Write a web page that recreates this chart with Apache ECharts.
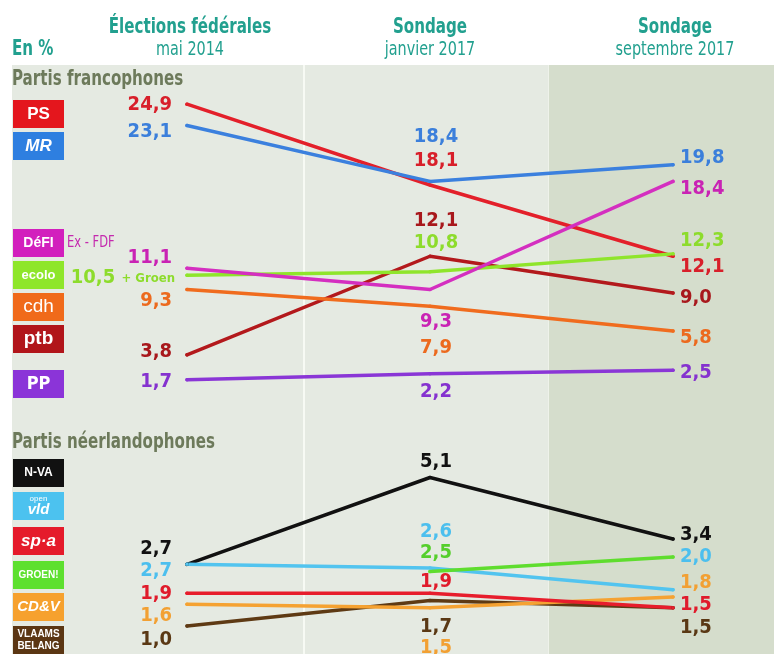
<!DOCTYPE html>
<html>
<head>
<meta charset="utf-8">
<script src="https://cdn.jsdelivr.net/npm/echarts@6/dist/echarts.min.js"></script>
<style>
  html, body { margin: 0; padding: 0; background: #fff; }
  #chart { width: 774px; height: 654px; }
</style>
</head>
<body>
<div id="chart"></div>
<script>
// colonnes
const periodTitles = ['Élections fédérales', 'Sondage', 'Sondage'];
const periodDates = ['mai 2014', 'janvier 2017', 'septembre 2017'];

// partis francophones (en %)
const ps = [24.9, 18.1, 12.1];
const mr = [23.1, 18.4, 19.8];
const defi = [11.1, 9.3, 18.4];
const ecolo = [10.5, 10.8, 12.3];
const cdh = [9.3, 7.9, 5.8];
const ptb = [3.8, 12.1, 9.0];
const pp = [1.7, 2.2, 2.5];

// partis néerlandophones (en %)
const nva = [2.7, 5.1, 3.4];
const openVld = [2.7, 2.6, 2.0];
const spa = [1.9, 1.9, 1.5];
const groen = [null, 2.5, 2.9];
const cdv = [1.6, 1.5, 1.8];
const vb = [1.0, 1.7, 1.5];

const NARROW = '"Liberation Sans Narrow", "DejaVu Sans Condensed", sans-serif';
const WIDE = '"Liberation Sans", Arial, sans-serif';

// grid 0 = francophones, grid 1 = néerlandophones
// nudge = vertical shift of the value label at each column (null = no label)
const parties = [
  { name: 'PS', grid: 0, values: ps, color: '#e3202a', text: '#d81f2a', nudge: [1, -24, 11] },
  { name: 'MR', grid: 0, values: mr, color: '#3b80de', text: '#3b7fdb', nudge: [6, -45, -7] },
  { name: 'ptb', grid: 0, values: ptb, color: '#b3191c', text: '#a8181c', nudge: [-3, -35, 5] },
  { name: 'ecolo', grid: 0, values: ecolo, color: '#8fe52b', text: '#8ddc2c', nudge: [3, -29, -13], suffix: '+ Groen' },
  { name: 'DéFI', grid: 0, values: defi, color: '#d42fc0', text: '#c923b4', nudge: [-10, 32, 7] },
  { name: 'cdh', grid: 0, values: cdh, color: '#f06c1e', text: '#ec6a1e', nudge: [11, 42, 7] },
  { name: 'PP', grid: 0, values: pp, color: '#8a36d6', text: '#8532cf', nudge: [2, 18, 2] },
  { name: 'N-VA', grid: 1, values: nva, color: '#111111', text: '#111111', nudge: [-16, -16, -4] },
  { name: 'Open VLD', grid: 1, values: openVld, color: '#52c4ef', text: '#4cbfee', nudge: [6, -36, -33] },
  { name: 'Groen', grid: 1, values: groen, color: '#5fdd2e', text: '#55cf2c', nudge: [null, -19, null] },
  { name: 'VB', grid: 1, values: vb, color: '#5e3a14', text: '#5a3814', nudge: [14, 26, 20] },
  { name: 'CD&V', grid: 1, values: cdv, color: '#f5a232', text: '#f2a033', nudge: [12, 40, -14] },
  { name: 'sp.a', grid: 1, values: spa, color: '#e71d2c', text: '#e01b2b', nudge: [0, -12, -3] }
];

const fmt = v => v.toFixed(1).replace('.', ',');

const labelAt = (p, i) => {
  const dy = p.nudge[i];
  if (dy === null) return { show: false };
  const base = {
    show: true,
    position: 'inside',
    verticalAlign: 'middle',
    formatter: fmt(p.values[i]),
    color: p.text,
    fontFamily: NARROW,
    fontWeight: 'bold',
    fontSize: 20
  };
  if (i === 0) {
    base.align = 'right';
    base.offset = [-15, dy];
    if (p.suffix) {
      base.formatter = '{n|' + fmt(p.values[0]) + '} {g|' + p.suffix + '}';
      base.rich = {
        n: { fontFamily: NARROW, fontWeight: 'bold', fontSize: 20, color: p.text },
        g: { fontFamily: NARROW, fontSize: 13, color: p.text }
      };
      base.offset = [-12, dy];
    }
  } else if (i === 1) {
    base.align = 'center';
    base.offset = [6, dy];
  } else {
    base.align = 'left';
    base.offset = [7, dy];
  }
  return base;
};

const series = parties.map(p => ({
  name: p.name,
  type: 'line',
  xAxisIndex: p.grid,
  yAxisIndex: p.grid,
  symbol: 'circle',
  symbolSize: 3.5,
  itemStyle: { color: p.color },
  lineStyle: { color: p.color, width: 3.5, cap: 'round', join: 'round' },
  emphasis: { disabled: true },
  silent: true,
  data: p.values
    .map((v, i) => ({ value: [i, v], label: labelAt(p, i) }))
    .filter(d => d.value[1] !== null)
}));

// logos
const logo = (y, bg, children) => ({
  type: 'group', x: 13, y: y,
  children: [{ type: 'rect', shape: { x: 0, y: 0, width: 51, height: 28 }, style: { fill: bg } }].concat(children)
});
const logoText = (text, font, extra) => Object.assign({
  type: 'text', x: 25.5, y: 14,
  style: { text: text, fill: '#fff', font: font, align: 'center', verticalAlign: 'middle' }
}, extra || {});

// condensed header text (squeezed horizontally)
const headText = (x, y, text, font, color, align) => ({
  type: 'text', x: x, y: y, scaleX: 0.8,
  style: { text: text, fill: color, font: font, align: align || 'left', verticalAlign: 'middle' }
});

const graphics = [
  { type: 'rect', z: -10, shape: { x: 12, y: 65, width: 762, height: 589 }, style: { fill: '#e5eae2' } },
  { type: 'rect', z: -10, shape: { x: 548, y: 65, width: 226, height: 589 }, style: { fill: '#d5ddcc' } },
  { type: 'rect', z: -9, shape: { x: 303, y: 65, width: 2, height: 589 }, style: { fill: '#f7faf4' } },
  { type: 'rect', z: -9, shape: { x: 548, y: 65, width: 1, height: 589 }, style: { fill: '#eef2ea' } },

  headText(12, 50, 'En %', 'bold 21px ' + NARROW, '#22a08f'),
  headText(12, 80, 'Partis francophones', 'bold 21px ' + NARROW, '#6d7a5b'),
  headText(12, 443, 'Partis néerlandophones', 'bold 21px ' + NARROW, '#6d7a5b'),
  headText(67, 243, 'Ex - FDF', '16px ' + NARROW, '#c42aae'),

  logo(100, '#e4161d', [logoText('PS', 'bold 17px ' + WIDE)]),
  logo(132, '#2e7fe0', [logoText('MR', 'italic bold 17px ' + WIDE)]),
  logo(229, '#d21fbd', [logoText('DéFI', 'bold 14px ' + WIDE)]),
  logo(261, '#8ee62a', [logoText('ecolo', 'bold 13px ' + WIDE)]),
  logo(293, '#f06a1a', [logoText('cdh', '19px ' + WIDE)]),
  logo(325, '#b1151a', [logoText('ptb', 'bold 19px ' + WIDE)]),
  logo(370, '#8b34d8', [logoText('PP', 'bold 18px ' + NARROW)]),
  logo(459, '#111111', [logoText('N-VA', 'bold 12px ' + WIDE)]),
  logo(492, '#4cc2ef', [logoText('open', '8px ' + WIDE, { y: 7 }), logoText('vld', 'italic bold 15px ' + WIDE, { y: 18 })]),
  logo(527, '#e51b2b', [logoText('sp·a', 'italic bold 17px ' + WIDE)]),
  logo(561, '#5de02f', [logoText('GROEN!', 'bold 10px ' + WIDE)]),
  logo(593, '#f6a12e', [logoText('CD&V', 'italic bold 15px ' + WIDE)]),
  logo(626, '#5b3613', [logoText('VLAAMS', 'bold 10px ' + WIDE, { y: 8 }), logoText('BELANG', 'bold 10px ' + WIDE, { y: 20 })])
];

// column headers
const colX = [190, 430, 675];
periodTitles.forEach((t, i) => {
  graphics.push(headText(colX[i], 28, t, 'bold 21px ' + NARROW, '#22a08f', 'center'));
  graphics.push(headText(colX[i], 50, periodDates[i], '20px ' + NARROW, '#22a08f', 'center'));
});

const hiddenX = i => ({ type: 'value', gridIndex: i, min: 0, max: 2, show: false });

const chart = echarts.init(document.getElementById('chart'));
chart.setOption({
  backgroundColor: '#ffffff',
  animation: false,
  grid: [
    { left: 187, right: 101, top: 103, height: 297 },
    { left: 187, right: 101, top: 463, height: 181 }
  ],
  xAxis: [hiddenX(0), hiddenX(1)],
  yAxis: [
    { type: 'value', gridIndex: 0, min: 0, max: 25, show: false },
    { type: 'value', gridIndex: 1, min: 0.5, max: 5.5, show: false }
  ],
  graphic: graphics,
  series: series
});
</script>
</body>
</html>
